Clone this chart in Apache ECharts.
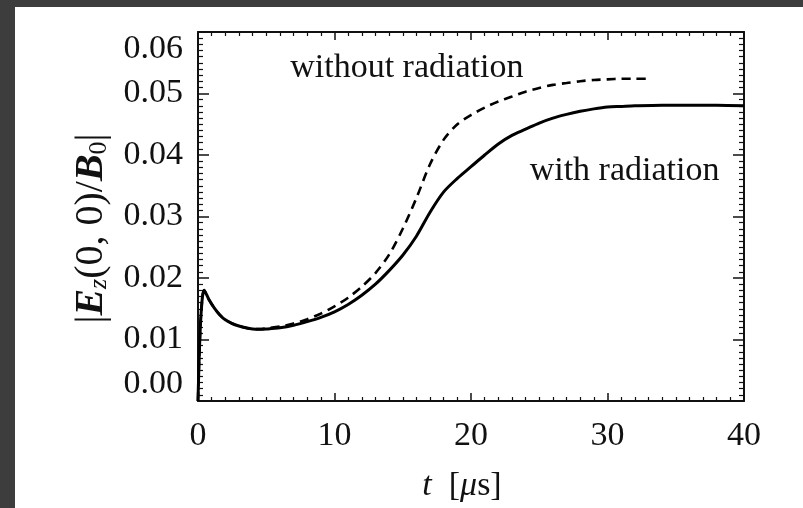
<!DOCTYPE html>
<html>
<head>
<meta charset="utf-8">
<title>Ez(0,0)/B0 vs t</title>
<script src="https://cdn.jsdelivr.net/npm/echarts@6/dist/echarts.min.js"></script>
<style>
  html, body { margin: 0; padding: 0; background: #3d3d3d; }
  #main { position: absolute; left: 15px; top: 7px; width: 788px; height: 501px; background: #fff; }
</style>
</head>
<body>
<div id="main"></div>
<script>
// t in microseconds
var tWith = [0, 0.1, 0.25, 0.45, 0.8, 1.2, 1.6, 2, 2.5, 3, 3.5, 4, 4.5, 5, 6, 7, 8, 9, 10, 11, 12, 13, 14, 15, 16, 17, 18, 19, 20, 21, 22, 23, 24, 25, 26, 27, 28, 29, 30, 31, 32, 34, 36, 38, 40];
var eWith = [0, 0.008, 0.015, 0.018, 0.0165, 0.0151, 0.014, 0.0132, 0.0126, 0.0122, 0.0119, 0.0117, 0.01165, 0.0117, 0.0119, 0.0123, 0.0129, 0.0136, 0.0145, 0.0157, 0.0172, 0.019, 0.0212, 0.0237, 0.0268, 0.0307, 0.034, 0.0362, 0.0381, 0.04, 0.0418, 0.0432, 0.0442, 0.0452, 0.046, 0.0466, 0.0471, 0.0475, 0.0478, 0.0479, 0.048, 0.0481, 0.0481, 0.0481, 0.048];

var tWithout = [0, 0.1, 0.25, 0.45, 0.8, 1.2, 1.6, 2, 2.5, 3, 3.5, 4, 4.5, 5, 6, 7, 8, 9, 10, 11, 12, 13, 14, 15, 16, 17, 18, 19, 20, 21, 22, 23, 24, 25, 26, 27, 28, 29, 30, 31, 32, 33];
var eWithout = [0, 0.008, 0.015, 0.018, 0.0165, 0.0151, 0.014, 0.0132, 0.0126, 0.0122, 0.0119, 0.0117, 0.01168, 0.0118, 0.0121, 0.0126, 0.0133, 0.0142, 0.0154, 0.0168, 0.0186, 0.0208, 0.0238, 0.028, 0.033, 0.0385, 0.0425, 0.045, 0.0465, 0.0477, 0.0487, 0.0495, 0.0503, 0.0509, 0.0514, 0.0517, 0.052, 0.0522, 0.0523, 0.0524, 0.0524, 0.0524];

var xTicks = [0, 10, 20, 30, 40];
var yTicks = [0, 0.01, 0.02, 0.03, 0.04, 0.05, 0.06];

// text annotations placed in data coordinates
var noteText = ['without radiation', 'with radiation'];
var noteT = [15.3, 31.25];
var noteE = [0.0541, 0.0374];

var serif = '"Liberation Serif", "Times New Roman", serif';
var ink = '#111';

function pairs(xs, ys) {
  return xs.map(function (x, i) { return [x, ys[i]]; });
}

var chart = echarts.init(document.getElementById('main'));

var axisLine = { show: true, onZero: false, lineStyle: { color: ink, width: 2 } };
function frameX(pos, labels) {
  return {
    type: 'value', position: pos, min: xTicks[0], max: xTicks[xTicks.length - 1], interval: 10,
    axisLine: axisLine,
    axisTick: { show: true, inside: true, length: 8, lineStyle: { color: ink, width: 1.5 } },
    minorTick: { show: true, splitNumber: 10, length: 4, lineStyle: { color: ink, width: 1.2 } },
    splitLine: { show: false },
    axisLabel: { show: labels, margin: 18, color: ink, fontFamily: serif, fontSize: 34 }
  };
}
function frameY(pos, labels) {
  return {
    type: 'value', position: pos, min: yTicks[0], max: yTicks[yTicks.length - 1], interval: 0.01,
    axisLine: axisLine,
    axisTick: { show: true, inside: true, length: 11, lineStyle: { color: ink, width: 1.5 } },
    minorTick: { show: true, splitNumber: 10, length: 5, lineStyle: { color: ink, width: 1.2 } },
    splitLine: { show: false },
    axisLabel: {
      show: labels, margin: 15, color: ink, fontFamily: serif, fontSize: 34,
      verticalAlignMinLabel: 'bottom', verticalAlignMaxLabel: 'top',
      formatter: function (v) { return v.toFixed(2); }
    }
  };
}

var xBottom = frameX('bottom', true);
xBottom.name = '{i|t}  [{i|μ}s]';
xBottom.nameLocation = 'middle';
xBottom.nameGap = 68;
xBottom.nameTextStyle = {
  color: ink, fontFamily: serif, fontSize: 34, padding: [0, 18, 0, 0],
  rich: { i: { fontStyle: 'italic', fontFamily: serif, fontSize: 34, color: ink } }
};

var yLeft = frameY('left', true);
yLeft.name = '|{b|E}{s|z}(0, 0)/{b|B}{s0|0}|';
yLeft.nameLocation = 'middle';
yLeft.nameRotate = 90;
yLeft.nameGap = 84;
yLeft.nameTextStyle = {
  color: ink, fontFamily: serif, fontSize: 40, padding: [0, 24, 0, 0],
  rich: {
    b: { fontStyle: 'italic', fontWeight: 'bold', fontFamily: serif, fontSize: 40, color: ink },
    s: { fontStyle: 'italic', fontFamily: serif, fontSize: 26, color: ink, verticalAlign: 'bottom', padding: [16, 0, 0, 0] },
    s0: { fontFamily: serif, fontSize: 26, color: ink, verticalAlign: 'bottom', padding: [16, 0, 0, 0] }
  }
};

chart.setOption({
  animation: false,
  backgroundColor: '#fff',
  grid: { left: 183, top: 25, right: 59, bottom: 105 },
  xAxis: [xBottom, frameX('top', false)],
  yAxis: [yLeft, frameY('right', false)],
  series: [
    {
      name: 'with radiation', type: 'line', xAxisIndex: 0, yAxisIndex: 0,
      data: pairs(tWith, eWith), showSymbol: false, smooth: 0.3,
      lineStyle: { color: '#000', width: 3 }, z: 3
    },
    {
      name: 'without radiation', type: 'line', xAxisIndex: 0, yAxisIndex: 0,
      data: pairs(tWithout, eWithout), showSymbol: false, smooth: 0.3,
      lineStyle: { color: '#000', width: 2.6, type: [9, 6] }, z: 4
    },
    {
      type: 'scatter', xAxisIndex: 0, yAxisIndex: 0, symbolSize: 0, silent: true,
      data: noteText.map(function (s, i) { return { value: [noteT[i], noteE[i]], name: s }; }),
      label: {
        show: true, position: 'inside', formatter: '{b}',
        color: ink, fontFamily: serif, fontSize: 34, textBorderWidth: 0, opacity: 1
      }
    }
  ]
});
</script>
</body>
</html>
